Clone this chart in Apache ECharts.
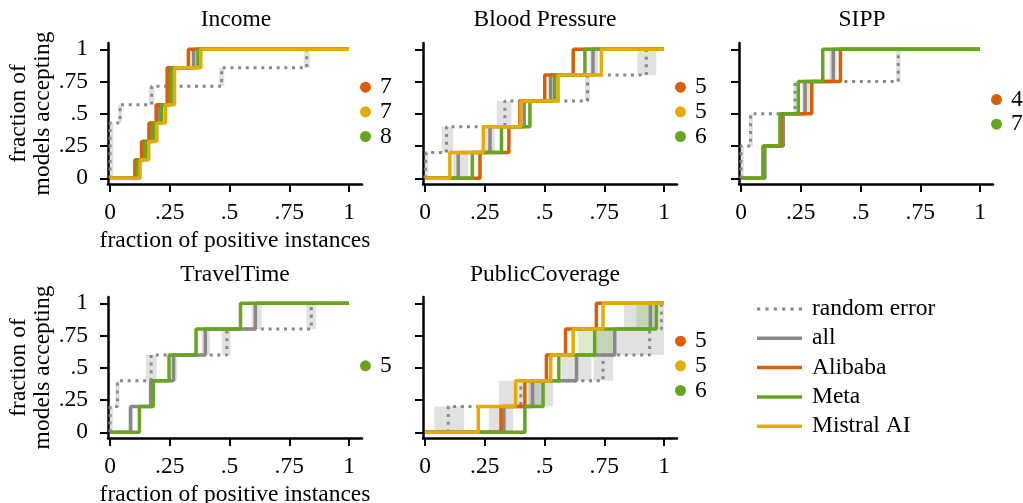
<!DOCTYPE html>
<html>
<head>
<meta charset="utf-8">
<script src="https://cdn.jsdelivr.net/npm/echarts@6/dist/echarts.min.js"></script>
<style>
  html, body { margin: 0; padding: 0; background: #fff; }
  #chart { width: 1023px; height: 503px; }
</style>
</head>
<body>
<div id="chart"></div>
<script>
// Axis ticks shared by every panel
const tickValues = [0, 0.25, 0.5, 0.75, 1];
const tickLabels = ['0', '.25', '.5', '.75', '1'];

// Step curves: [fraction of positive instances, fraction of models accepting]
// Income
const incomeRandom  = [[0,0],[0,0.429],[0.042,0.571],[0.174,0.714],[0.467,0.857],[0.823,1],[1,1]];
const incomeAll     = [[0,0],[0.112,0.143],[0.139,0.286],[0.174,0.429],[0.204,0.571],[0.247,0.857],[0.350,1],[1,1]];
const incomeAlibaba = [[0,0],[0.104,0.143],[0.132,0.286],[0.163,0.429],[0.193,0.571],[0.239,0.857],[0.328,1],[1,1]];
const incomeMeta    = [[0,0],[0.114,0.143],[0.149,0.286],[0.182,0.429],[0.216,0.571],[0.256,0.857],[0.368,1],[1,1]];
const incomeMistral = [[0,0],[0.126,0.143],[0.162,0.286],[0.196,0.429],[0.232,0.571],[0.270,0.857],[0.380,1],[1,1]];
const incomeBands   = [[0,0.014,0,0.429],[0.034,0.05,0.429,0.571],[0.162,0.186,0.571,0.714],[0.457,0.478,0.714,0.857],
                       [0.811,0.836,0.857,1],[0.337,0.362,0.857,1],[0.24,0.256,0.571,0.857],[0.134,0.145,0.143,0.286]];
const incomeCounts  = [['Alibaba',7],['Mistral AI',7],['Meta',8]];

// Blood Pressure
const bpRandom  = [[0,0],[0.005,0.2],[0.09,0.4],[0.334,0.6],[0.68,0.8],[0.926,1],[1,1]];
const bpAll     = [[0,0],[0.139,0.2],[0.272,0.4],[0.415,0.6],[0.526,0.8],[0.703,1],[1,1]];
const bpAlibaba = [[0,0],[0.230,0.2],[0.351,0.4],[0.397,0.6],[0.501,0.8],[0.620,1],[1,1]];
const bpMeta    = [[0,0],[0.198,0.2],[0.320,0.4],[0.439,0.6],[0.543,0.8],[0.669,1],[1,1]];
const bpMistral = [[0,0],[0.104,0.2],[0.244,0.4],[0.401,0.6],[0.557,0.8],[0.738,1],[1,1]];
const bpBands   = [[0,0.014,0,0.2],[0.07,0.118,0.2,0.4],[0.118,0.181,0,0.2],[0.251,0.292,0.2,0.4],[0.30,0.362,0.4,0.6],
                   [0.513,0.543,0.6,0.8],[0.669,0.69,0.6,0.8],[0.689,0.724,0.8,1],[0.889,0.968,0.8,1]];
const bpCounts  = [['Alibaba',5],['Mistral AI',5],['Meta',6]];

// SIPP
const sippRandom  = [[0,0],[0,0.25],[0.04,0.5],[0.226,0.75],[0.658,1],[1,1]];
const sippAll     = [[0,0],[0.1,0.25],[0.177,0.5],[0.268,0.75],[0.386,1],[1,1]];
const sippAlibaba = [[0,0],[0.092,0.25],[0.168,0.5],[0.296,0.75],[0.416,1],[1,1]];
const sippMeta    = [[0,0],[0.095,0.25],[0.163,0.5],[0.24,0.75],[0.342,1],[1,1]];
const sippBands   = [[0,0.012,0,0.25],[0.034,0.05,0.25,0.5],[0.219,0.24,0.5,0.75],[0.255,0.29,0.5,0.75],
                     [0.37,0.4,0.75,1],[0.648,0.668,0.75,1]];
const sippCounts  = [['Alibaba',4],['Meta',7]];

// TravelTime
const ttRandom = [[0,0],[0,0.2],[0.031,0.4],[0.172,0.6],[0.489,0.8],[0.842,1],[1,1]];
const ttAll    = [[0,0],[0.086,0.2],[0.170,0.4],[0.266,0.6],[0.399,0.8],[0.608,1],[1,1]];
const ttMeta   = [[0,0],[0.123,0.2],[0.181,0.4],[0.247,0.6],[0.360,0.8],[0.546,1],[1,1]];
const ttBands  = [[0,0.012,0,0.2],[0.024,0.04,0.2,0.4],[0.078,0.095,0,0.2],[0.15,0.195,0.4,0.6],[0.253,0.281,0.4,0.6],
                  [0.383,0.418,0.6,0.8],[0.467,0.504,0.6,0.8],[0.592,0.634,0.8,1],[0.822,0.861,0.8,1]];
const ttCounts = [['Meta',5]];

// PublicCoverage
const pcRandom  = [[0,0],[0.097,0.2],[0.401,0.4],[0.745,0.6],[0.94,0.8],[0.989,1],[1,1]];
const pcAll     = [[0,0],[0.33,0.2],[0.45,0.4],[0.634,0.6],[0.794,0.8],[0.943,1],[1,1]];
const pcAlibaba = [[0,0],[0.318,0.2],[0.418,0.4],[0.508,0.6],[0.588,0.8],[0.717,1],[1,1]];
const pcMeta    = [[0,0],[0.418,0.2],[0.494,0.4],[0.56,0.6],[0.71,0.8],[0.968,1],[1,1]];
const pcMistral = [[0,0],[0.223,0.2],[0.379,0.4],[0.526,0.6],[0.62,0.8],[0.745,1],[1,1]];
const pcBands   = [[0.039,0.164,0,0.2],[0.267,0.369,0,0.2],[0.309,0.418,0.2,0.4],[0.432,0.536,0.2,0.4],[0.432,0.494,0.2,0.4],
                   [0.571,0.696,0.4,0.6],[0.706,0.787,0.4,0.6],[0.717,1.0,0.6,0.8],[0.833,1.0,0.8,1]];
const pcMetaBands = [[0.64,0.794,0.6,0.8],[0.884,0.961,0.8,1]];
const pcCounts  = [['Alibaba',5],['Mistral AI',5],['Meta',6]];

// ---- styling ----
const FONT = '"Liberation Serif", "DejaVu Serif", serif';
const FS = 23.5;
const COLORS = { 'random error': '#888888', 'all': '#888888', 'Alibaba': '#d95f02', 'Meta': '#66a61e', 'Mistral AI': '#e6ab02' };
const GRAY_BAND = 'rgba(140,140,140,0.26)';
const GREEN_BAND = 'rgba(102,166,30,0.22)';
const DOT = [3, 4.7];
const LINE_W = 3.5;

// axis extents leave a small margin around [0, 1]
const X_MIN = -2 / 239, X_MAX = 1 + 13 / 239;
const Y_MIN = -5.7 / 129, Y_MAX = 1 + 6.3 / 129;

const panels = [
  { title: 'Income', left: 108, top: 43, titleX: 236, titleY: 8, axisNames: true,
    random: incomeRandom, all: incomeAll, families: [['Alibaba', incomeAlibaba], ['Meta', incomeMeta], ['Mistral AI', incomeMistral]],
    bands: incomeBands, greenBands: [], counts: incomeCounts },
  { title: 'Blood Pressure', left: 423, top: 43, titleX: 545, titleY: 8, axisNames: false,
    random: bpRandom, all: bpAll, families: [['Alibaba', bpAlibaba], ['Meta', bpMeta], ['Mistral AI', bpMistral]],
    bands: bpBands, greenBands: [], counts: bpCounts },
  { title: 'SIPP', left: 739, top: 43, titleX: 862, titleY: 8, axisNames: false,
    random: sippRandom, all: sippAll, families: [['Alibaba', sippAlibaba], ['Meta', sippMeta]],
    bands: sippBands, greenBands: [], counts: sippCounts },
  { title: 'TravelTime', left: 108, top: 297, titleX: 235, titleY: 263, axisNames: true,
    random: ttRandom, all: ttAll, families: [['Meta', ttMeta]],
    bands: ttBands, greenBands: [], counts: ttCounts },
  { title: 'PublicCoverage', left: 423, top: 297, titleX: 545, titleY: 263, axisNames: false,
    random: pcRandom, all: pcAll, families: [['Alibaba', pcAlibaba], ['Meta', pcMeta], ['Mistral AI', pcMistral]],
    bands: pcBands, greenBands: pcMetaBands, counts: pcCounts }
];

function tickText(v) {
  let best = 0;
  tickValues.forEach((t, k) => { if (Math.abs(t - v) < Math.abs(tickValues[best] - v)) best = k; });
  return tickLabels[best];
}

const textBase = { fontFamily: FONT, fontSize: FS, color: '#000' };

function bandSeries(i, data, fill) {
  return {
    type: 'custom', xAxisIndex: i, yAxisIndex: i, silent: true, z: 1,
    data: data,
    renderItem: (params, api) => {
      const a = api.coord([api.value(0), api.value(3)]);
      const b = api.coord([api.value(1), api.value(2)]);
      return { type: 'rect', shape: { x: a[0], y: a[1], width: b[0] - a[0], height: b[1] - a[1] }, style: { fill: fill } };
    }
  };
}

function stepSeries(i, name, data, dashed, z) {
  return {
    type: 'line', name: name, xAxisIndex: i, yAxisIndex: i, data: data, step: 'end',
    symbol: 'none', showSymbol: false, silent: true, z: z, color: COLORS[name],
    lineStyle: { color: COLORS[name], width: dashed ? 3 : LINE_W, type: dashed ? DOT : 'solid', cap: 'butt' }
  };
}

const grids = [], xAxes = [], yAxes = [], titles = [], series = [];

panels.forEach((p, i) => {
  grids.push({ left: p.left, top: p.top, width: 254, height: 141, outerBoundsMode: 'none' });
  xAxes.push({
    gridIndex: i, type: 'value', min: X_MIN, max: X_MAX,
    axisLine: { show: true, onZero: false, lineStyle: { color: '#000', width: 2.5 } },
    axisTick: { show: true, length: 8, customValues: tickValues, lineStyle: { color: '#000', width: 2 } },
    axisLabel: { customValues: tickValues, formatter: tickText, margin: 17, ...textBase },
    splitLine: { show: false },
    name: p.axisNames ? 'fraction of positive instances' : '',
    nameLocation: 'middle', nameGap: 45, nameTextStyle: { ...textBase }
  });
  yAxes.push({
    gridIndex: i, type: 'value', min: Y_MIN, max: Y_MAX,
    axisLine: { show: true, onZero: false, lineStyle: { color: '#000', width: 2.5 } },
    axisTick: { show: true, length: 8, customValues: tickValues, lineStyle: { color: '#000', width: 2 } },
    axisLabel: { show: p.axisNames, customValues: tickValues, formatter: tickText, margin: 20, ...textBase },
    splitLine: { show: false },
    name: p.axisNames ? 'fraction of\nmodels accepting' : '',
    nameLocation: 'middle', nameRotate: 90, nameGap: 53,
    nameTextStyle: { ...textBase, lineHeight: 24 }
  });
  titles.push({
    text: p.title, left: p.titleX, top: p.titleY, textAlign: 'center', padding: 0,
    textStyle: { ...textBase, fontWeight: 'normal' }
  });

  series.push(bandSeries(i, p.bands, GRAY_BAND));
  if (p.greenBands.length) series.push(bandSeries(i, p.greenBands, GREEN_BAND));
  series.push(stepSeries(i, 'random error', p.random, true, 3));
  series.push(stepSeries(i, 'all', p.all, false, 4));
  p.families.forEach(([name, data], k) => series.push(stepSeries(i, name, data, false, 5 + k)));

  // model counts per family, stacked to the right of the panel
  const n = p.counts.length, pitch = 0.191, mid = 0.515;
  p.counts.forEach(([name, count], k) => {
    series.push({
      type: 'scatter', name: name + ' models', xAxisIndex: i, yAxisIndex: i, clip: false, silent: true, z: 8,
      symbol: 'circle', symbolSize: 11,
      itemStyle: { color: COLORS[name], opacity: 1 },
      data: [[1 + 16.5 / 239, mid + ((n - 1) / 2 - k) * pitch, count]],
      label: { show: true, position: 'right', distance: 9, formatter: d => String(d.value[2]), ...textBase }
    });
  });
});

const solidIcon = 'path://M0 0H45V3.5H0Z';
const dottedIcon = 'path://M0 0h3v3h-3z M7.8 0h3v3h-3z M15.6 0h3v3h-3z M23.4 0h3v3h-3z M31.2 0h3v3h-3z M39 0h3v3h-3z';

const option = {
  animation: false,
  backgroundColor: '#fff',
  title: titles,
  grid: grids,
  xAxis: xAxes,
  yAxis: yAxes,
  legend: {
    orient: 'vertical', left: 752, top: 292,
    itemWidth: 45, itemHeight: 4, itemGap: 5.3, selectedMode: false,
    itemStyle: { borderWidth: 0 },
    textStyle: { ...textBase, lineHeight: 24, padding: [0, 0, 0, 5] },
    data: [
      { name: 'random error', icon: dottedIcon },
      { name: 'all', icon: solidIcon },
      { name: 'Alibaba', icon: solidIcon },
      { name: 'Meta', icon: solidIcon },
      { name: 'Mistral AI', icon: solidIcon }
    ]
  },
  series: series
};

const chart = echarts.init(document.getElementById('chart'), null, { renderer: 'canvas' });
chart.setOption(option);
</script>
</body>
</html>
